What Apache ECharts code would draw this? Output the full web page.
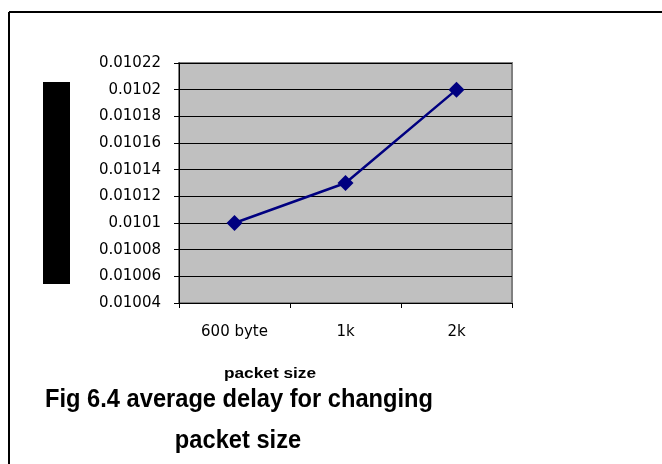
<!DOCTYPE html>
<html>
<head>
<meta charset="utf-8">
<script src="https://cdn.jsdelivr.net/npm/echarts@6/dist/echarts.min.js"></script>
<style>
  html, body { margin: 0; padding: 0; background: #fff; }
  #chart { width: 662px; height: 464px; }
</style>
</head>
<body>
<div id="chart"></div>
<script>
// Packet sizes and the measured average delay for each
const categories = ['600 byte', '1k', '2k'];
const avgDelay = [0.0101, 0.01013, 0.0102];
const yMin = 0.01004;
const yMax = 0.01022;
const yStep = 0.00002;
const xAxisTitle = 'packet size';
const captionLines = ['Fig 6.4 average delay for changing', 'packet size'];

const chart = echarts.init(document.getElementById('chart'), null, { renderer: 'canvas' });

const captionFont = 'bold 26px "Liberation Sans", Arial, sans-serif';

chart.setOption({
  backgroundColor: '#ffffff',
  animation: false,
  grid: {
    left: 179, right: 150, top: 63, bottom: 161,
    show: true,
    backgroundColor: '#C0C0C0',
    borderColor: '#808080',
    borderWidth: 2
  },
  xAxis: {
    type: 'category',
    data: categories,
    boundaryGap: true,
    axisLine: { show: true, lineStyle: { color: '#000', width: 1 } },
    axisTick: { show: true, length: 5, lineStyle: { color: '#000' } },
    axisLabel: {
      margin: 22,
      color: '#000',
      fontFamily: 'DejaVu Sans, Liberation Sans, sans-serif',
      fontSize: 15
    },
    splitLine: { show: false }
  },
  yAxis: {
    type: 'value',
    min: yMin,
    max: yMax,
    interval: yStep,
    axisLine: { show: true, lineStyle: { color: '#000', width: 1 } },
    axisTick: { show: true, length: 5, lineStyle: { color: '#000' } },
    axisLabel: {
      margin: 18,
      color: '#000',
      fontFamily: 'DejaVu Sans, Liberation Sans, sans-serif',
      fontSize: 15,
      formatter: function (v) { return String(parseFloat(v.toFixed(6))); }
    },
    splitLine: { show: true, lineStyle: { color: '#000', width: 1 } }
  },
  series: [{
    type: 'line',
    data: avgDelay,
    symbol: 'diamond',
    symbolSize: 16,
    lineStyle: { color: '#000080', width: 2.5 },
    itemStyle: { color: '#000080' }
  }],
  graphic: [
    // frame around the figure (top and left edges)
    { type: 'line', shape: { x1: 9, y1: 12, x2: 662, y2: 12 }, style: { stroke: '#000', lineWidth: 2 } },
    { type: 'line', shape: { x1: 9, y1: 12, x2: 9, y2: 464 }, style: { stroke: '#000', lineWidth: 2 } },
    // filled block beside the value axis
    { type: 'rect', shape: { x: 43, y: 82, width: 27, height: 202 }, style: { fill: '#000' } },
    // axis title
    {
      type: 'text', x: 270, y: 374, scaleX: 1.15,
      style: {
        text: xAxisTitle, fill: '#000', align: 'center', verticalAlign: 'middle',
        font: 'bold 15px "Liberation Sans", Arial, sans-serif'
      }
    },
    // figure caption (condensed bold)
    {
      type: 'text', x: 239, y: 400, scaleX: 0.91,
      style: {
        text: captionLines[0], fill: '#000', align: 'center', verticalAlign: 'middle',
        font: captionFont
      }
    },
    {
      type: 'text', x: 238, y: 441, scaleX: 0.91,
      style: {
        text: captionLines[1], fill: '#000', align: 'center', verticalAlign: 'middle',
        font: captionFont
      }
    }
  ]
});
</script>
</body>
</html>
